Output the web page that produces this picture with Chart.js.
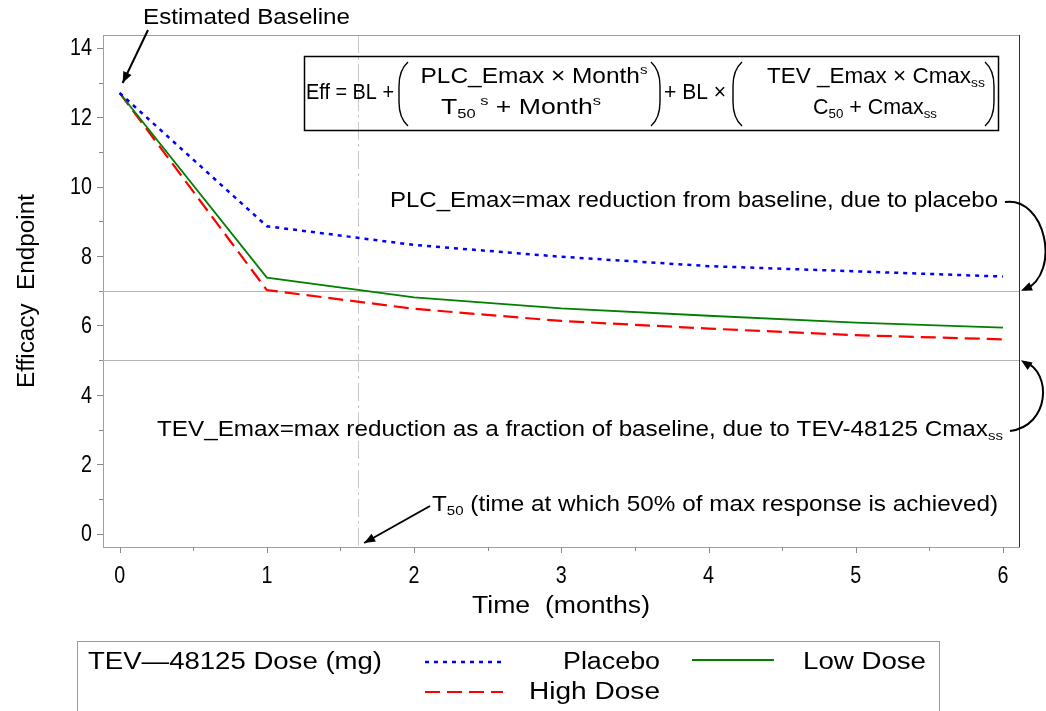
<!DOCTYPE html>
<html><head><meta charset="utf-8">
<script src="https://cdn.jsdelivr.net/npm/chart.js@4.4.1/dist/chart.umd.min.js"></script>
<style>html,body{margin:0;padding:0;background:#fff;} #wrap{width:1046px;height:711px;}</style>
</head><body><div id="wrap"><canvas id="c" width="1046" height="711"></canvas></div>
<script>
// ---- data ----
const months   = [0, 1, 2, 3, 4, 5, 6];
const placebo  = [12.70, 8.86, 8.32, 7.98, 7.71, 7.56, 7.41];
const lowDose  = [12.70, 7.38, 6.81, 6.49, 6.28, 6.08, 5.94];
const highDose = [12.70, 7.02, 6.48, 6.13, 5.91, 5.72, 5.60];
const seriesNames = ['Placebo', 'Low Dose', 'High Dose'];
const yTickValues = [0, 2, 4, 6, 8, 10, 12, 14];
const yMinorTicks = [1, 3, 5, 7, 9, 11, 13];
const xTickValues = [0, 1, 2, 3, 4, 5, 6];
const xMinorTicks = [0.5, 1.5, 2.5, 3.5, 4.5, 5.5];
const refLevels = [7, 5];      // horizontal reference lines
const t50Month = 1.62;         // vertical reference line (T50)
const baselineValue = 12.7;
const legendTitle = 'TEV\u201448125 Dose (mg)';

const SANS = "'Liberation Sans',Arial,sans-serif";

function pts(ys) { return months.map((m, i) => ({ x: m, y: ys[i] })); }

// draws text segments; w = target width (or null), sxFixed = fixed horizontal scale
function rich(ctx, segs, x, y, w, size, align, sxFixed) {
  const parts = segs.map(([t, k]) => {
    const fs = k ? size * 0.62 : size;
    ctx.font = fs + 'px ' + SANS;
    return { t, k, fs, w: ctx.measureText(t).width };
  });
  const nat = parts.reduce((a, p) => a + p.w, 0);
  const sx = w ? w / nat : (sxFixed || 1);
  const total = nat * sx;
  const x0 = align === 'center' ? x - total / 2 : align === 'right' ? x - total : x;
  ctx.save();
  ctx.translate(x0, y);
  ctx.scale(sx, 1);
  ctx.textBaseline = 'middle';
  ctx.textAlign = 'left';
  ctx.fillStyle = '#000';
  let cx = 0;
  for (const p of parts) {
    ctx.font = p.fs + 'px ' + SANS;
    const dy = p.k === 'sub' ? size * 0.30 : p.k === 'sup' ? -size * 0.32 : 0;
    ctx.fillText(p.t, cx, dy);
    cx += p.w;
  }
  ctx.restore();
}

function paren(ctx, x, top, bot, dir) {
  const w = 9;
  ctx.beginPath();
  ctx.moveTo(x + dir * w, top);
  ctx.quadraticCurveTo(x, top + 8, x, top + 24);
  ctx.lineTo(x, bot - 24);
  ctx.quadraticCurveTo(x, bot - 8, x + dir * w, bot);
  ctx.stroke();
}

function head(ctx, tx, ty, fx, fy) {
  const a = Math.atan2(ty - fy, tx - fx);
  const L = 11, W = 4.5;
  ctx.beginPath();
  ctx.moveTo(tx, ty);
  ctx.lineTo(tx - L * Math.cos(a) + W * Math.sin(a), ty - L * Math.sin(a) - W * Math.cos(a));
  ctx.lineTo(tx - L * Math.cos(a) - W * Math.sin(a), ty - L * Math.sin(a) + W * Math.cos(a));
  ctx.closePath();
  ctx.fill();
}

const bgPlugin = {
  id: 'bg',
  beforeDraw(chart) {
    const c = chart.ctx;
    c.save(); c.fillStyle = '#fff'; c.fillRect(0, 0, chart.width, chart.height); c.restore();
  },
  beforeDatasetsDraw(chart) {
    const c = chart.ctx, xs = chart.scales.x, ys = chart.scales.y, a = chart.chartArea;
    c.save();
    c.strokeStyle = '#b4b4b4'; c.lineWidth = 1;
    refLevels.forEach(v => {
      const py = Math.round(ys.getPixelForValue(v)) + 0.5;
      c.beginPath(); c.moveTo(a.left, py); c.lineTo(a.right, py); c.stroke();
    });
    c.strokeStyle = '#c8c8c8'; c.setLineDash([18, 4, 3, 4]);
    const px = Math.round(xs.getPixelForValue(t50Month)) + 0.5;
    c.beginPath(); c.moveTo(px, a.top); c.lineTo(px, a.bottom); c.stroke();
    c.restore();
  },
  afterDraw(chart) {
    const c = chart.ctx, xs = chart.scales.x, ys = chart.scales.y, a = chart.chartArea;
    c.save();
    // frame
    c.strokeStyle = '#a0a0a0'; c.lineWidth = 1;
    c.beginPath(); c.moveTo(a.left, a.top + 0.5); c.lineTo(a.right, a.top + 0.5); c.stroke();
    c.strokeStyle = '#303030';
    c.beginPath(); c.moveTo(a.right + 0.5, a.top); c.lineTo(a.right + 0.5, a.bottom); c.stroke();
    // ticks
    c.strokeStyle = '#8a8a8a';
    yTickValues.forEach(v => { const py = Math.round(ys.getPixelForValue(v)) + 0.5; c.beginPath(); c.moveTo(a.left - 6, py); c.lineTo(a.left, py); c.stroke(); });
    yMinorTicks.forEach(v => { const py = Math.round(ys.getPixelForValue(v)) + 0.5; c.beginPath(); c.moveTo(a.left - 4, py); c.lineTo(a.left, py); c.stroke(); });
    xTickValues.forEach(v => { const px = Math.round(xs.getPixelForValue(v)) + 0.5; c.beginPath(); c.moveTo(px, a.bottom); c.lineTo(px, a.bottom + 6); c.stroke(); });
    xMinorTicks.forEach(v => { const px = Math.round(xs.getPixelForValue(v)) + 0.5; c.beginPath(); c.moveTo(px, a.bottom); c.lineTo(px, a.bottom + 4); c.stroke(); });
    // tick labels (condensed, as in the reference)
    yTickValues.forEach(v => rich(c, [[String(v), '']], a.left - 11, ys.getPixelForValue(v) + 1, null, 24, 'right', 0.82));
    xTickValues.forEach(v => rich(c, [[String(v), '']], xs.getPixelForValue(v), a.bottom + 29, null, 24, 'center', 0.82));

    // axis titles
    rich(c, [['Time  (months)', '']], 561, 607, 178, 23, 'center');
    c.save(); c.translate(28, 291); c.rotate(-Math.PI / 2);
    rich(c, [['Efficacy  Endpoint', '']], 0, 0, 194, 23, 'center');
    c.restore();

    // equation box
    c.strokeStyle = '#000'; c.lineWidth = 1.5; c.fillStyle = '#000';
    c.strokeRect(304.5, 56.5, 694, 74);
    rich(c, [['Eff = BL +', '']], 306, 93, 88, 22, 'left');
    c.lineWidth = 1.4;
    paren(c, 399, 62, 126, 1);
    paren(c, 660, 62, 126, -1);
    rich(c, [['PLC_Emax \u00d7 Month', ''], ['s', 'sup']], 534, 77, 227, 22, 'center');
    rich(c, [['T', ''], ['50', 'sub'], [' s', 'sup'], [' + Month', ''], ['s', 'sup']], 521, 108, 160, 22, 'center');
    rich(c, [['+ BL \u00d7', '']], 664, 93, 62, 22, 'left');
    paren(c, 733, 62, 126, 1);
    paren(c, 994, 62, 126, -1);
    rich(c, [['TEV _Emax \u00d7 Cmax', ''], ['ss', 'sub']], 876, 77, 218, 22, 'center');
    rich(c, [['C', ''], ['50', 'sub'], [' + Cmax', ''], ['ss', 'sub']], 875, 108, 124, 22, 'center');

    // annotations
    rich(c, [['Estimated Baseline', '']], 143, 18, 207, 22, 'left');
    const bx = xs.getPixelForValue(0) + 3, by = ys.getPixelForValue(baselineValue) - 10;
    c.lineWidth = 2;
    c.beginPath(); c.moveTo(148, 30); c.lineTo(bx, by); c.stroke();
    head(c, bx, by, 148, 30);

    rich(c, [['PLC_Emax=max reduction from baseline, due to placebo', '']], 390, 201, 608, 22, 'left');
    const t7x = a.right + 2, t7y = ys.getPixelForValue(refLevels[0]);
    c.beginPath(); c.moveTo(1005, 202); c.bezierCurveTo(1045, 196, 1062, 272, t7x + 4, t7y - 1); c.stroke();
    head(c, t7x, t7y, t7x + 14, t7y - 6);

    rich(c, [['TEV_Emax=max reduction as a fraction of baseline, due to TEV-48125 Cmax', ''], ['ss', 'sub']], 157, 430, 846, 22, 'left');
    const t5x = a.right + 2, t5y = ys.getPixelForValue(refLevels[1]);
    c.beginPath(); c.moveTo(1010, 431); c.bezierCurveTo(1050, 426, 1052, 372, t5x + 4, t5y + 2); c.stroke();
    head(c, t5x, t5y, t5x + 12, t5y + 8);

    rich(c, [['T', ''], ['50', 'sub'], [' (time at which 50% of max response is achieved)', '']], 432, 505, 566, 22, 'left');
    const tx = xs.getPixelForValue(t50Month) + 6, ty = a.bottom - 4;
    c.beginPath(); c.moveTo(430, 506); c.lineTo(tx, ty); c.stroke();
    head(c, tx, ty, 430, 506);

    // legend
    c.lineWidth = 1; c.strokeStyle = '#9a9a9a';
    c.strokeRect(77.5, 641.5, 862, 90);
    rich(c, [[legendTitle, '']], 88, 663, 294, 23, 'left');
    const ds = chart.data.datasets;
    const slots = [
      { line: [425, 503, 662], text: [563, 97, 663] },
      { line: [692, 774, 660], text: [803, 123, 663] },
      { line: [425, 503, 692], text: [529, 131, 693] }
    ];
    ds.forEach((d, i) => {
      const s = slots[i];
      c.save();
      c.strokeStyle = d.borderColor; c.lineWidth = d.borderWidth; c.setLineDash(d.borderDash || []);
      c.beginPath(); c.moveTo(s.line[0], s.line[2]); c.lineTo(s.line[1], s.line[2]); c.stroke();
      c.restore();
      rich(c, [[d.label, '']], s.text[0], s.text[2], s.text[1], 23, 'left');
    });
    c.restore();
  }
};

new Chart(document.getElementById('c'), {
  type: 'line',
  data: {
    datasets: [
      { label: seriesNames[0], data: pts(placebo), borderColor: '#0000ff', borderWidth: 2.5, borderDash: [4, 5], pointRadius: 0, tension: 0, fill: false },
      { label: seriesNames[1], data: pts(lowDose), borderColor: '#008000', borderWidth: 1.8, pointRadius: 0, tension: 0, fill: false },
      { label: seriesNames[2], data: pts(highDose), borderColor: '#ff0000', borderWidth: 2.2, borderDash: [15, 7], pointRadius: 0, tension: 0, fill: false }
    ]
  },
  options: {
    responsive: false,
    animation: false,
    devicePixelRatio: 1,
    layout: { padding: { top: 35, right: 27, left: 0, bottom: 0 } },
    plugins: { legend: { display: false }, tooltip: { enabled: false } },
    scales: {
      x: {
        type: 'linear', min: -0.113, max: 6.109,
        afterFit: s => { s.height = 164; },
        afterBuildTicks: s => { s.ticks = xTickValues.map(v => ({ value: v })); },
        grid: { display: false, drawTicks: false },
        border: { display: true, color: '#a0a0a0', width: 1 },
        ticks: { display: false }
      },
      y: {
        type: 'linear', min: -0.383, max: 14.37,
        afterFit: s => { s.width = 103; },
        afterBuildTicks: s => { s.ticks = yTickValues.map(v => ({ value: v })); },
        grid: { display: false, drawTicks: false },
        border: { display: true, color: '#a0a0a0', width: 1 },
        ticks: { display: false }
      }
    }
  },
  plugins: [bgPlugin]
});
</script>
</body></html>
